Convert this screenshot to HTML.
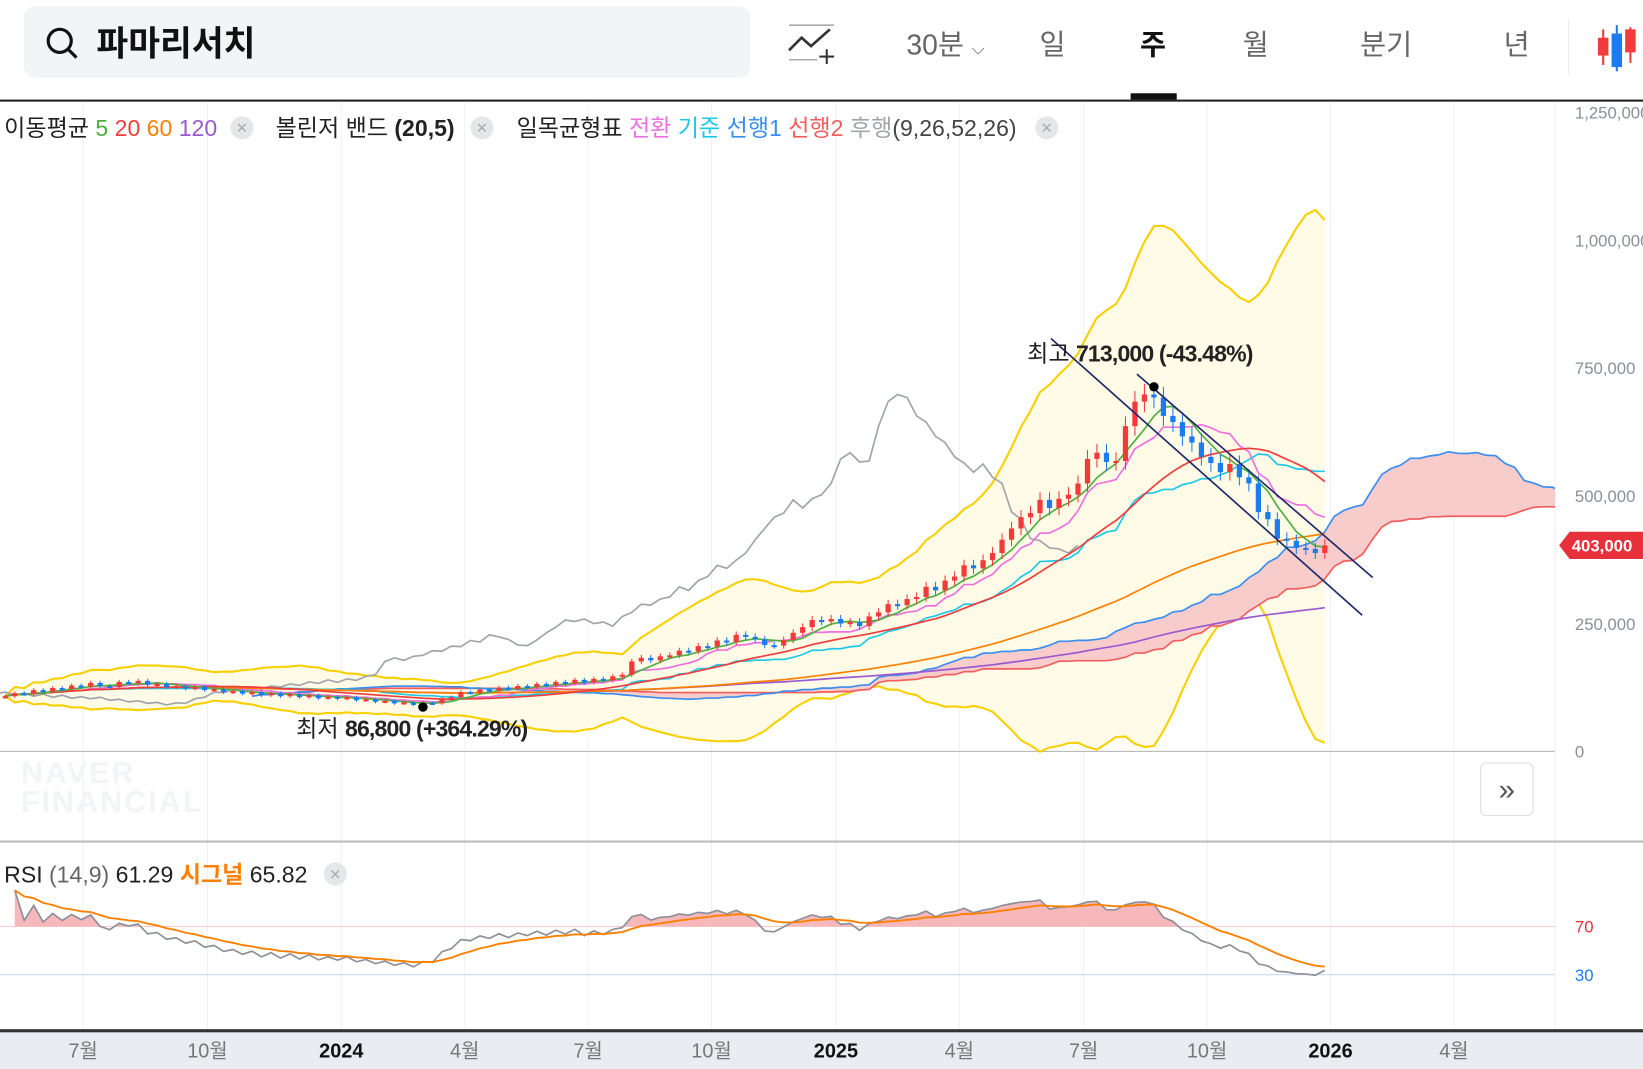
<!DOCTYPE html>
<html><head><meta charset="utf-8"><style>
html,body{margin:0;padding:0;background:#fff;overflow:hidden}
svg{display:block}
text{font-family:"Liberation Sans","Noto Sans CJK KR",sans-serif}
</style></head><body>
<svg id="c" width="1643" height="1069" viewBox="0 0 1568 1020" preserveAspectRatio="none">
<rect x="23" y="6" width="693" height="68" rx="10" fill="#f2f4f6"/>
<g><circle cx="57" cy="39" r="11" fill="none" stroke="#111" stroke-width="3"/><line x1="65" y1="47" x2="73" y2="55" stroke="#111" stroke-width="3"/></g>
<text x="92" y="53" font-size="33" font-weight="bold" fill="#111">파마리서치</text>
<g><polyline points="753,48 765,36 774,44 792,28" fill="none" stroke="#333" stroke-width="2.5"/><line x1="753" y1="24" x2="796" y2="24" stroke="#aaa" stroke-width="1.5"/><line x1="753" y1="57" x2="780" y2="57" stroke="#aaa" stroke-width="1.5"/><line x1="789" y1="47" x2="789" y2="61" stroke="#333" stroke-width="2"/><line x1="782" y1="54" x2="796" y2="54" stroke="#333" stroke-width="2"/></g>
<text x="865" y="52" font-size="27" fill="#666">30분 <tspan font-size="16">⌵</tspan></text>
<text x="992" y="52" font-size="27" fill="#666">일</text>
<text x="1088" y="52" font-size="27" font-weight="bold" fill="#111">주</text>
<rect x="1079" y="89" width="44" height="6" fill="#111"/>
<text x="1186" y="52" font-size="27" fill="#666">월</text>
<text x="1298" y="52" font-size="27" fill="#666">분기</text>
<text x="1435" y="52" font-size="27" fill="#666">년</text>
<line x1="1497" y1="18" x2="1497" y2="72" stroke="#eee"/>
<g><line x1="1530" y1="28" x2="1530" y2="62" stroke="#f03c3c" stroke-width="2"/><rect x="1525" y="36" width="10" height="17" fill="#f03c3c"/><line x1="1543" y1="24" x2="1543" y2="68" stroke="#1a7cf0" stroke-width="2"/><rect x="1538" y="32" width="10" height="32" fill="#1a7cf0"/><line x1="1556" y1="26" x2="1556" y2="60" stroke="#f03c3c" stroke-width="2"/><rect x="1551" y="28" width="10" height="22" fill="#f03c3c"/></g>
<rect x="0" y="95" width="1568" height="2" fill="#222"/>
<g id="grid"></g>
<g id="main"></g>
<g id="rsi"></g>
<rect x="0" y="983" width="1568" height="37" fill="#e9ecf0"/>
<rect x="0" y="982" width="1568" height="3" fill="#333"/>
<g id="xt"></g>
<g font-size="22">
<text x="4" y="130" fill="#222">이동평균 <tspan fill="#4cb041">5</tspan> <tspan fill="#f03c3c">20</tspan> <tspan fill="#ff8000">60</tspan> <tspan fill="#9b59d0">120</tspan></text>
<text x="263" y="130" fill="#222">볼린저 밴드 <tspan font-weight="bold">(20,5)</tspan></text>
<text x="493" y="130" fill="#222">일목균형표 <tspan fill="#ee6fe0">전환</tspan> <tspan fill="#1ec8e8">기준</tspan> <tspan fill="#3a8ef0">선행1</tspan> <tspan fill="#f25e5e">선행2</tspan> <tspan fill="#a0a4ac">후행</tspan><tspan fill="#444">(9,26,52,26)</tspan></text>
<text x="4" y="842" fill="#222">RSI <tspan fill="#666">(14,9)</tspan> 61.29 <tspan fill="#ff8000" font-weight="bold">시그널</tspan> 65.82</text>
</g>
<g fill="#e4e6ea"><circle cx="231" cy="122" r="11"/><circle cx="460" cy="122" r="11"/><circle cx="999" cy="122" r="11"/><circle cx="320" cy="834" r="11"/></g>
<g fill="#aaa" font-size="14" text-anchor="middle"><text x="231" y="127">✕</text><text x="460" y="127">✕</text><text x="999" y="127">✕</text><text x="320" y="839">✕</text></g>
<text x="20" y="747" font-size="29" font-weight="bold" fill="#f3f4f6" letter-spacing="2">NAVER</text>
<text x="20" y="775" font-size="29" font-weight="bold" fill="#f3f4f6" letter-spacing="2">FINANCIAL</text>
<g><rect x="1413" y="728" width="50" height="50" rx="5" fill="#fff" stroke="#ddd"/><text x="1438" y="763" font-size="28" fill="#555" text-anchor="middle">»</text></g>
</svg>
<script>
const closes=[108,114,112,120,117,124,122,129,127,134,128,126,136,134,138,130,132,126,128,123,126,120,122,116,118,113,116,110,114,108,112,106,110,104,107,103,106,100,102,97,99,94,96,91,95,94,103,106,116,115,121,119,125,122,128,126,132,129,136,133,140,135,142,139,147,150,176,183,178,186,188,197,196,206,205,217,214,228,224,219,208,207,218,232,243,257,254,259,250,253,245,264,272,288,286,298,302,322,315,334,342,364,358,374,388,414,436,458,466,492,476,494,502,524,572,584,566,568,636,684,698,692,656,644,616,604,576,564,546,562,536,524,468,454,416,412,398,396,388,403];
const priceTicks=[0,250,500,750,1000,1250];
const priceTickLabels=["0","250,000","500,000","750,000","1,000,000","1,250,000"];
const monthLabels=["7월","10월","2024","4월","7월","10월","2025","4월","7월","10월","2026","4월"];
const monthWeekIdx=[8.2,21.3,35.4,48.4,61.4,74.4,87.5,100.5,113.6,126.6,139.6,152.6];
const highInfo=[121,713,"최고","713,000 (-43.48%)"];
const lowInfo=[44,86.8,"최저","86,800 (+364.29%)"];
const rsiLevels=[70,30];
const NS="http://www.w3.org/2000/svg";
const X=i=>5+i*9.06, Y=v=>717-v*0.488, RY=r=>964.5-r*1.15;
function el(p,t,a){const e=document.createElementNS(NS,t);for(const k in a)e.setAttribute(k,a[k]);p.appendChild(e);return e;}
const grid=document.getElementById('grid'),main=document.getElementById('main'),rsiG=document.getElementById('rsi'),xt=document.getElementById('xt');
monthWeekIdx.forEach((w,j)=>{
 const g=el(grid,'line',{x1:X(w),x2:X(w),y1:97,y2:983,stroke:'#f0f1f3'});
 
 
 const t=el(xt,'text',{x:X(w),y:1009,'font-size':19,'text-anchor':'middle',fill:monthLabels[j].length==4?'#111':'#777','font-weight':monthLabels[j].length==4?'bold':'normal'});
 t.textContent=monthLabels[j];
 
 
});
el(grid,'line',{x1:1484,x2:1484,y1:97,y2:983,stroke:'#eceef1'});
el(grid,'line',{x1:0,x2:1484,y1:717,y2:717,stroke:'#bbb'});
el(grid,'line',{x1:0,x2:1568,y1:803,y2:803,stroke:'#bbb','stroke-width':2});
priceTicks.forEach((v,j)=>{
 const t=el(grid,'text',{x:1503,y:Y(v)+6,'font-size':16,fill:'#8a8f99'});
 t.textContent=priceTickLabels[j];
 
 
});
const n=closes.length;
const sma=(p,i)=>{if(i<0)return null;const s=Math.max(0,i-p+1);let a=0;for(let k=s;k<=i;k++)a+=closes[k];return a/(i-s+1);};
const mid=(p,i)=>{const s=Math.max(0,i-p+1);let h=-1e9,l=1e9;for(let k=s;k<=i;k++){h=Math.max(h,closes[k]*1.03);l=Math.min(l,closes[k]*0.97);}return (h+l)/2;};
function path(pts){return pts.map((p,k)=>(k?'L':'M')+p[0].toFixed(1)+','+p[1].toFixed(1)).join('');}
const up=[],lo=[];
for(let i=0;i<n;i++){const m=sma(20,i);const s=Math.max(0,i-19);let v=0;for(let k=s;k<=i;k++)v+=(closes[k]-m)**2;const sd=Math.sqrt(v/(i-s+1));up.push([X(i),Y(m+5*sd)]);lo.push([X(i),Y(m-5*sd)]);}
const clip=el(main,'clipPath',{id:'pc'});el(clip,'rect',{x:0,y:97,width:1484,height:706});
const mg=el(main,'g',{'clip-path':'url(#pc)'});
el(mg,'path',{d:path(up)+path(lo.slice().reverse()).replace('M','L')+'Z',fill:'#fffbe6'});
el(mg,'path',{d:path(up),fill:'none',stroke:'#f8d000','stroke-width':2});
el(mg,'path',{d:path(lo),fill:'none',stroke:'#f8d000','stroke-width':2});
const s1=[],s2=[];
for(let i=0;i<n;i++){s1.push([X(i+26),Y((mid(9,i)+mid(26,i))/2)]);s2.push([X(i+26),Y(mid(52,i))]);}
el(mg,'path',{d:path(s1)+path(s2.slice().reverse()).replace('M','L')+'Z',fill:'#f9cccc'});
const lines=[
 ['ichimoku-span2',s2,'#f25e5e'],['ichimoku-span1',s1,'#3a8ef0'],
 ['ichimoku-lagging',closes.map((c,i)=>[X(i-26),Y(c)]),'#a0a4ac'],
 ['ichimoku-base',closes.map((c,i)=>[X(i),Y(mid(26,i))]),'#1ec8e8'],
 ['ichimoku-conversion',closes.map((c,i)=>[X(i),Y(mid(9,i))]),'#ee6fe0'],
 ['ma120',closes.map((c,i)=>[X(i),Y(sma(120,i))]),'#9b59d0'],
 ['ma60',closes.map((c,i)=>[X(i),Y(sma(60,i))]),'#ff8000'],
 ['ma20',closes.map((c,i)=>[X(i),Y(sma(20,i))]),'#f03c3c'],
 ['ma5',closes.map((c,i)=>[X(i),Y(sma(5,i))]),'#4cb041']];
lines.forEach(l=>{const p=el(mg,'path',{d:path(l[1]),fill:'none',stroke:l[2],'stroke-width':1.6});});
for(let i=0;i<n;i++){
 const o=i?closes[i-1]:closes[i]*0.98,c=closes[i],col=c>=o?'#f23a3a':'#1a7cf0';
 const hi=Math.max(o,c)*1.03,lw=Math.min(o,c)*0.97;
 const g=el(mg,'g',{});
 
 
 el(g,'line',{x1:X(i),x2:X(i),y1:Y(hi),y2:Y(lw),stroke:col,'stroke-width':1});
 el(g,'rect',{x:X(i)-2.5,y:Y(Math.max(o,c)),width:5,height:Math.max(2,Math.abs(Y(o)-Y(c))),fill:col});
}
el(mg,'line',{x1:1003,y1:323,x2:1300,y2:587,stroke:'#1f2a6b','stroke-width':1.6});
el(mg,'line',{x1:1085,y1:357,x2:1310,y2:551,stroke:'#1f2a6b','stroke-width':1.6});
[[highInfo,-24],[lowInfo,28]].forEach(([inf,dy])=>{
 const cx=X(inf[0]),cy=Y(inf[1]);
 el(main,'circle',{cx:cx,cy:cy,r:4.5,fill:'#000'});
 const t=el(main,'text',{x:cx-121,y:cy+dy,'font-size':22,fill:'#222'});
 t.innerHTML=inf[2]+'  <tspan font-weight="bold" letter-spacing="-0.8">'+inf[3]+'</tspan>';
 
 
});
const last=closes[n-1],ly=Y(last);
el(main,'path',{d:`M1488,${ly}L1498,${ly-13}H1568V${ly+13}H1498Z`,fill:'#e8303a'});
const lt=el(main,'text',{x:1500,y:ly+6,'font-size':16,fill:'#fff','font-weight':'bold'});lt.textContent=(last*1000).toLocaleString('en-US');
let ag=0,al=0;const rsi=[];
for(let i=1;i<n;i++){const d=closes[i]-closes[i-1],g=Math.max(d,0),l=Math.max(-d,0);
 if(i<=14){ag+=g/14;al+=l/14;}else{ag=(ag*13+g)/14;al=(al*13+l)/14;}
 rsi.push([i,al===0?100:100-100/(1+ag/al)]);}
const sig=[];let e=rsi[0][1];rsi.forEach(r=>{e=e+(r[1]-e)*0.2;sig.push([r[0],e]);});
rsiLevels.forEach((v,j)=>{el(rsiG,'line',{x1:0,x2:1484,y1:RY(v),y2:RY(v),stroke:j?'#c9dcf7':'#f6caca'});
 const t=el(rsiG,'text',{x:1503,y:RY(v)+6,'font-size':16,fill:j?'#1a7cf0':'#e8303a'});t.textContent=v;
 
 });
const rp=rsi.map(r=>[X(r[0]),RY(r[1])]);
const cp=el(rsiG,'clipPath',{id:'rc'});el(cp,'rect',{x:0,y:840,width:1484,height:RY(70)-840});
el(rsiG,'path',{d:path(rp)+`L${rp[rp.length-1][0]},${RY(70)}L${rp[0][0]},${RY(70)}Z`,fill:'#f7b8bc','clip-path':'url(#rc)'});
el(rsiG,'path',{d:path(rp),fill:'none',stroke:'#8d9098','stroke-width':1.6});
el(rsiG,'path',{d:path(sig.map(r=>[X(r[0]),RY(r[1])])),fill:'none',stroke:'#ff8000','stroke-width':1.8});
</script>
</body></html>
